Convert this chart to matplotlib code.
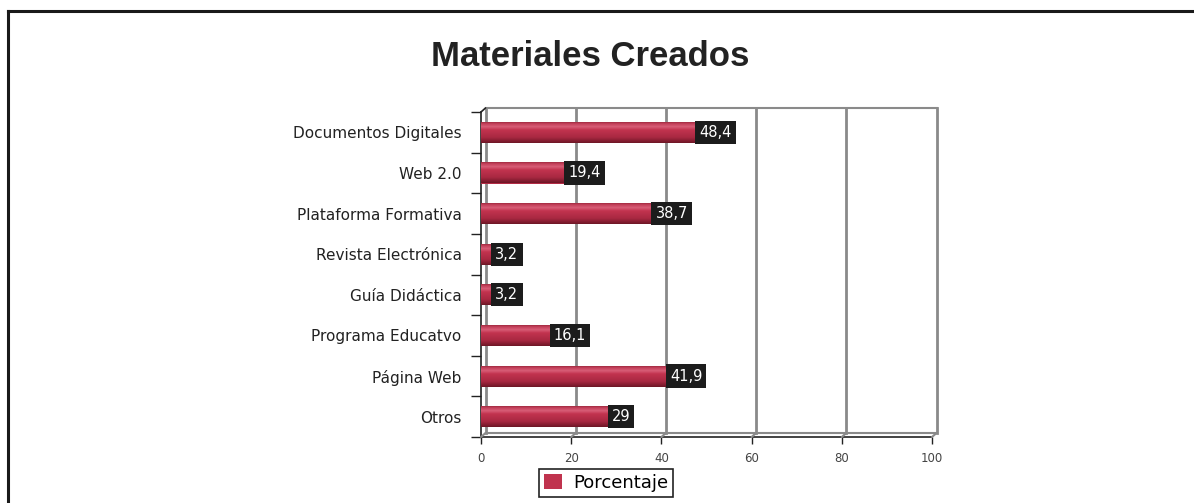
import numpy as np
import matplotlib.pyplot as plt
import matplotlib.transforms as mtransforms
from matplotlib.colors import LinearSegmentedColormap
from matplotlib.patches import Patch
from matplotlib.lines import Line2D

# Data
categorias = ['Documentos Digitales', 'Web 2.0', 'Plataforma Formativa',
              'Revista Electrónica', 'Guía Didáctica', 'Programa Educatvo',
              'Página Web', 'Otros']
porcentaje = [48.4, 19.4, 38.7, 3.2, 3.2, 16.1, 41.9, 29]
etiquetas = ['48,4', '19,4', '38,7', '3,2', '3,2', '16,1', '41,9', '29']
x_ticks = [0, 20, 40, 60, 80, 100]

W, H = 1194, 503
fig = plt.figure(figsize=(W / 100, H / 100), dpi=100)
ax = fig.add_axes([481 / W, 1 - 437 / H, (932 - 481) / W, (437 - 112) / H])

n = len(categorias)
ypos = np.arange(n)[::-1]
bar_h = 0.52

ax.set_xlim(0, 100)
ax.set_ylim(-0.5, n - 0.5)

# 3D back wall: offset copy of data transform
back = mtransforms.offset_copy(ax.transData, fig=fig, x=4.5 * 0.72, y=4 * 0.72, units='points')
grid_c = '#8a8a8a'
for xv in x_ticks:
    ax.plot([xv, xv], [-0.5, n - 0.5], color=grid_c, lw=2.0, transform=back,
            clip_on=False, zorder=1)
ax.plot([0, 100], [n - 0.5, n - 0.5], color=grid_c, lw=1.5, transform=back, clip_on=False, zorder=1)
ax.plot([0, 100], [-0.5, -0.5], color=grid_c, lw=1.5, transform=back, clip_on=False, zorder=1)
# floor connectors
for xv in x_ticks:
    ax.annotate('', xy=(xv, -0.5), xycoords=back, xytext=(xv, -0.5), textcoords='data',
                arrowprops=dict(arrowstyle='-', color=grid_c, lw=1.5, shrinkA=0, shrinkB=0))
ax.annotate('', xy=(0, n - 0.5), xycoords=back, xytext=(0, n - 0.5), textcoords='data',
            arrowprops=dict(arrowstyle='-', color='#222222', lw=1.2, shrinkA=0, shrinkB=0))

# Bars with gradient
cmap = LinearSegmentedColormap.from_list('rojo', [
    (0.0, '#8e2035'), (0.12, '#c4405a'), (0.25, '#d85e77'), (0.4, '#c2334f'),
    (0.75, '#a82841'), (1.0, '#6e1626')])
grad = np.linspace(0, 1, 64).reshape(-1, 1)
bars = ax.barh(ypos, porcentaje, height=bar_h, color='#b22a44', zorder=3)
for b in bars:
    x0, y0 = b.get_x(), b.get_y()
    im = ax.imshow(grad, cmap=cmap, aspect='auto', zorder=3.5,
                   extent=[x0, x0 + b.get_width(), y0, y0 + b.get_height()], origin='upper')
    im.set_clip_path(b)

ax.set_xlim(0, 100)
ax.set_ylim(-0.5, n - 0.5)

# Value labels
for y, v, t in zip(ypos, porcentaje, etiquetas):
    ax.text(v, y, t, ha='left', va='center', color='white', fontsize=10.5,
            family='DejaVu Sans', zorder=5,
            bbox=dict(boxstyle='square,pad=0.28', fc='#1c1c1c', ec='none'))

# Axes styling
for s in ['top', 'right']:
    ax.spines[s].set_visible(False)
ax.spines['left'].set_color('#222222')
ax.spines['bottom'].set_color('#222222')
ax.spines['left'].set_linewidth(1.2)
ax.spines['bottom'].set_linewidth(1.2)
ax.set_xticks(x_ticks)
ax.set_xticklabels([str(x) for x in x_ticks], fontsize=8.5, color='#444444')
ax.tick_params(axis='x', length=5, width=1, color='#222222', pad=6)
ax.set_yticks(ypos)
ax.set_yticklabels(categorias, fontsize=11, color='#222222')
ax.tick_params(axis='y', length=0, pad=14)
ax.set_yticks(np.arange(n + 1) - 0.5, minor=True)
ax.tick_params(axis='y', which='minor', length=7, width=1, color='#222222')

# Title
fig.text(0.494, 1 - 57 / H, 'Materiales Creados', ha='center', va='center',
         fontsize=25, fontweight='bold', family='Liberation Sans', color='#222222')

# Legend
leg = fig.legend(handles=[Patch(facecolor='#c0334e', edgecolor='none')], labels=['Porcentaje'],
                 loc='lower center', bbox_to_anchor=(606 / W, 2 / H), fontsize=13,
                 fancybox=False, framealpha=1, edgecolor='#222222', handlelength=1.0,
                 handleheight=0.9, handletextpad=0.6, borderpad=0.3, borderaxespad=0.2)
leg.get_frame().set_linewidth(1.2)

# Outer frame
fig.add_artist(Line2D([8 / W, 8 / W], [0, 1 - 11 / H], color='#1a1a1a', lw=2.2))
fig.add_artist(Line2D([8 / W, 1], [1 - 11 / H, 1 - 11 / H], color='#1a1a1a', lw=2.2))

fig.savefig('out.png', dpi=100)
